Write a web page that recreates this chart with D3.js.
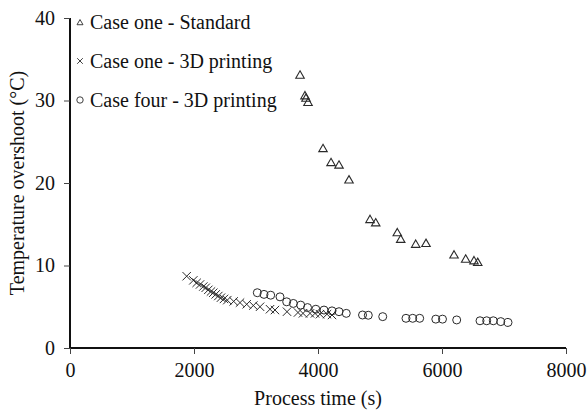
<!DOCTYPE html>
<html><head><meta charset="utf-8">
<script src="https://cdn.jsdelivr.net/npm/d3@7"></script>
<style>
body{margin:0;background:#fff;}
svg text{font-family:"Liberation Serif","Times New Roman",Times,serif !important;fill:#111;}
</style></head>
<body><svg id="c" width="587" height="412"></svg>
<script>
const standardX = [3710,3790,3806,3839,4081,4210,4339,4500,4839,4931,5279,5334,5576,5742,6194,6382,6516,6576];
const standardY = [33.0,30.5,30.2,29.7,24.1,22.4,22.1,20.3,15.5,15.1,13.9,13.1,12.5,12.6,11.2,10.7,10.5,10.3];
const oneX = [1882,1989,2043,2097,2150,2189,2231,2274,2311,2350,2392,2435,2484,2537,2640,2742,2850,2957,3065,3226,3306,3500,3677,3758,3871,3952,4032,4145,4226];
const oneY = [8.7,8.2,7.9,7.7,7.45,7.3,7.05,6.85,6.7,6.5,6.3,6.1,5.95,5.8,5.65,5.5,5.3,5.15,5.0,4.7,4.6,4.4,4.3,4.2,4.2,4.2,4.1,4.1,4.0];
const fourX = [3021,3129,3237,3387,3495,3602,3721,3831,3965,4097,4226,4339,4456,4718,4811,5044,5419,5527,5640,5900,6008,6237,6613,6721,6827,6948,7065];
const fourY = [6.7,6.5,6.4,6.2,5.6,5.4,5.2,4.9,4.7,4.6,4.5,4.4,4.2,4.0,3.97,3.8,3.6,3.6,3.6,3.5,3.5,3.4,3.3,3.3,3.3,3.2,3.1];
const xTicks = [0,2000,4000,6000,8000];
const yTicks = [0,10,20,30,40];
const legendLabels = ["Case one - Standard","Case one - 3D printing","Case four - 3D printing"];

const FONT = '"Liberation Serif","Times New Roman",Times,serif';
const svg = d3.select("#c");
const x = d3.scaleLinear().domain([0,8000]).range([70,566]);
const y = d3.scaleLinear().domain([0,40]).range([348,18]);

const xAxis = svg.append("g").attr("transform","translate(0,348)")
  .call(d3.axisBottom(x).tickValues(xTicks).tickSize(6).tickPadding(9).tickFormat(d3.format("d")));
const yAxis = svg.append("g").attr("transform","translate(70,0)")
  .call(d3.axisLeft(y).tickValues(yTicks).tickSize(6).tickPadding(9).tickFormat(d3.format("d")));
[xAxis,yAxis].forEach(a=>{
  a.attr("font-family",FONT).attr("font-size",20);
  a.select(".domain").attr("stroke","#111").attr("stroke-width",2);
  a.selectAll(".tick line").attr("stroke","#444").attr("stroke-width",1);
  a.selectAll(".tick text").attr("fill","#111");
});
xAxis.select(".domain").attr("d",`M${x(0)},0H${x(8000)}`);
yAxis.select(".domain").attr("d",`M0,${y(40)}V${y(0)}`);

svg.append("text").attr("x",318).attr("y",405).attr("text-anchor","middle")
  .attr("font-family",FONT).attr("font-size",20).text("Process time (s)");
svg.append("text").attr("transform","translate(24,183) rotate(-90)").attr("text-anchor","middle")
  .attr("font-family",FONT).attr("font-size",20).text("Temperature overshoot (°C)");

const col = "#2a2a2a";
function tri(s){
  const h = s*Math.sqrt(3)/2;
  return `M0,${-h*2/3}L${s/2},${h/3}L${-s/2},${h/3}Z`;
}
function cross(s){return `M${-s},${-s}L${s},${s}M${-s},${s}L${s},${-s}`;}

const gPts = svg.append("g");
gPts.selectAll("path.t").data(d3.zip(standardX,standardY)).join("path").attr("class","t")
  .attr("transform",d=>`translate(${x(d[0])},${y(d[1])})`).attr("d",tri(8.5))
  .attr("fill","none").attr("stroke",col).attr("stroke-width",1.1);
gPts.selectAll("path.x").data(d3.zip(oneX,oneY)).join("path").attr("class","x")
  .attr("transform",d=>`translate(${x(d[0])},${y(d[1])})`).attr("d",cross(4.2))
  .attr("fill","none").attr("stroke",col).attr("stroke-width",1);
gPts.selectAll("circle").data(d3.zip(fourX,fourY)).join("circle")
  .attr("cx",d=>x(d[0])).attr("cy",d=>y(d[1])).attr("r",4)
  .attr("fill","none").attr("stroke",col).attr("stroke-width",1);

const lg = svg.append("g");
const rows = [22,61,100];
legendLabels.forEach((t,i)=>{
  const cy = rows[i];
  if(i===0) lg.append("path").attr("transform",`translate(80,${cy+1})`).attr("d",tri(6)).attr("fill","none").attr("stroke",col).attr("stroke-width",0.9);
  if(i===1) lg.append("path").attr("transform",`translate(80,${cy})`).attr("d",cross(2.8)).attr("fill","none").attr("stroke",col).attr("stroke-width",0.9);
  if(i===2) lg.append("circle").attr("cx",80).attr("cy",cy).attr("r",3.2).attr("fill","none").attr("stroke",col).attr("stroke-width",0.9);
  lg.append("text").attr("x",90).attr("y",cy+7).attr("font-family",FONT).attr("font-size",20).text(t);
});
</script></body></html>
